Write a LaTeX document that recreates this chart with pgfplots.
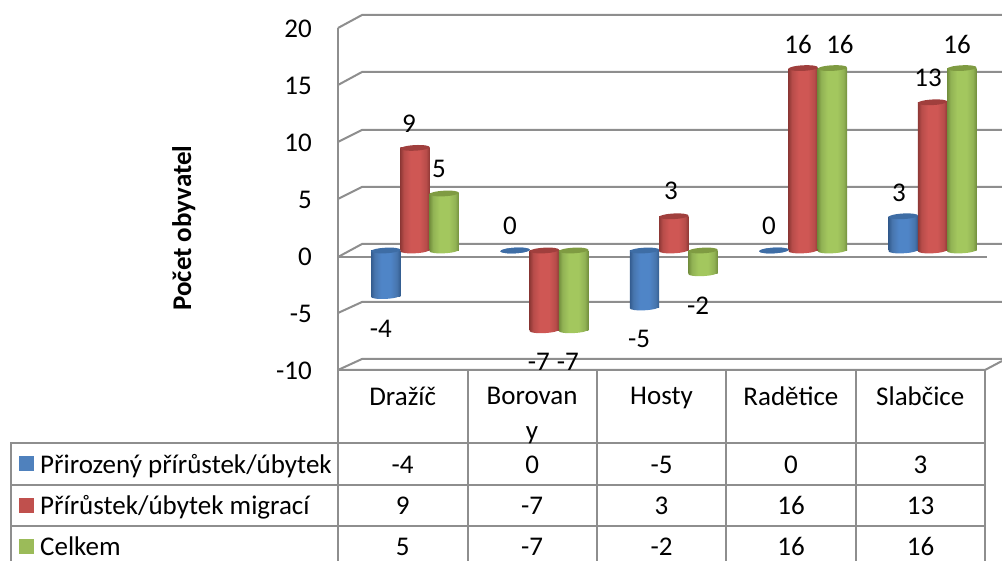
\documentclass[border=0pt]{standalone}
\usepackage{fontspec}
\setmainfont{Carlito}
\usepackage{pgfplots}
\pgfplotsset{compat=1.18}
\definecolor{gridc}{HTML}{8E8E8E}
\definecolor{sb}{HTML}{4F81BD}
\definecolor{sr}{HTML}{C0504D}
\definecolor{sg}{HTML}{9BBB59}
\definecolor{cb}{HTML}{3E6DA5}
\definecolor{cr}{HTML}{A03F3D}
\definecolor{cg}{HTML}{7F9B42}
\pgfdeclarehorizontalshading{cylb}{100bp}{rgb(0bp)=(0.20,0.36,0.56);rgb(25bp)=(0.20,0.36,0.56);rgb(31bp)=(0.28,0.46,0.68);rgb(42bp)=(0.31,0.52,0.78);rgb(58bp)=(0.31,0.52,0.78);rgb(69bp)=(0.28,0.46,0.68);rgb(75bp)=(0.20,0.36,0.56);rgb(100bp)=(0.20,0.36,0.56)}
\pgfdeclarehorizontalshading{cylr}{100bp}{rgb(0bp)=(0.56,0.22,0.21);rgb(25bp)=(0.56,0.22,0.21);rgb(31bp)=(0.72,0.30,0.29);rgb(42bp)=(0.81,0.34,0.33);rgb(58bp)=(0.81,0.34,0.33);rgb(69bp)=(0.72,0.30,0.29);rgb(75bp)=(0.56,0.22,0.21);rgb(100bp)=(0.56,0.22,0.21)}
\pgfdeclarehorizontalshading{cylg}{100bp}{rgb(0bp)=(0.45,0.56,0.24);rgb(25bp)=(0.45,0.56,0.24);rgb(31bp)=(0.57,0.70,0.33);rgb(42bp)=(0.64,0.78,0.37);rgb(58bp)=(0.64,0.78,0.37);rgb(69bp)=(0.57,0.70,0.33);rgb(75bp)=(0.45,0.56,0.24);rgb(100bp)=(0.45,0.56,0.24)}
\newcommand{\ellpath}{\pgftransformrotate{3}\pgfpathellipse{\pgfpointorigin}{\pgfqpoint{14.7pt}{0pt}}{\pgfqpoint{0pt}{2.8pt}}}
\pgfdeclareplotmark{captop}{\ellpath\pgfusepathqfill}
\pgfdeclareplotmark{botb}{\ellpath\pgfshadepath{cylb}{0}\pgfusepath{discard}}
\pgfdeclareplotmark{botr}{\ellpath\pgfshadepath{cylr}{0}\pgfusepath{discard}}
\pgfdeclareplotmark{botg}{\ellpath\pgfshadepath{cylg}{0}\pgfusepath{discard}}
\pgfplotsset{
  barb/.style={xshift=-17pt,yshift=5.5pt},
  barr/.style={xshift=12.3pt,yshift=5.5pt},
  barg/.style={xshift=41.5pt,yshift=5.5pt},
  colbar/.style={ybar,bar width=29.4pt,bar shift=0pt,draw=none,shade,shading=#1,forget plot},
  capm/.style={only marks,mark=captop,mark options={draw=none,fill=#1},forget plot},
  botm/.style={only marks,mark=#1,forget plot},
}
\newcommand{\mainfs}{\fontsize{27}{35}\selectfont}
\begin{document}
\begin{tikzpicture}[x=1pt,y=1pt]
\mainfs
\path[use as bounding box] (0,0) rectangle (1002,561);
\begin{scope}[shift={(0,561)},y=-1pt,gl/.style={draw=gridc,line width=2pt},every node/.style={inner sep=0pt}]
  % back wall gridlines and side wall
  \foreach \f/\b in {28/15,85/72,142/130,199/187,257/244,313/302,370/359}{
    \draw[gl] (338,\f) -- (362,\b) -- (1002,\b);
  }
  \draw[gl] (338,28) -- (338,561);
  \draw[gl] (338,257) -- (987,257);
  \draw[gl] (338,370) -- (985,370) -- (1002,361);
  % data table grid
  \foreach \x in {467.5,597,726,855.7,985}{\draw[gl] (\x,370) -- (\x,561);}
  \draw[gl] (10.5,561) -- (10.5,443) -- (985,443);
  \draw[gl] (10.5,485) -- (985,485);
  \draw[gl] (10.5,526.5) -- (985,526.5);
  % legend keys
  \fill[sb] (19,456) rectangle (34,471);
  \fill[sr] (19,498) rectangle (34,513);
  \fill[sg] (19,539) rectangle (34,554);
  \node[anchor=base west] at (40,473.5) {Přirozený přírůstek/úbytek};
  \node[anchor=base west] at (40,515) {Přírůstek/úbytek migrací};
  \node[anchor=base west] at (40,556) {Celkem};
  % data table values
  \foreach \x/\a/\b/\c in {402.7/-4/9/5,532.2/0/-7/-7,661.5/-5/3/-2,791/0/16/16,920.5/3/13/16}{
    \node[anchor=base] at (\x,474) {\a};
    \node[anchor=base] at (\x,515) {\b};
    \node[anchor=base] at (\x,556) {\c};
  }
\end{scope}
\begin{axis}[
  at={(338pt,191pt)},anchor=south west,
  scale only axis,width=647pt,height=342pt,
  xmin=-0.5,xmax=4.5,ymin=-10,ymax=20,
  clip=false,
  axis line style={draw=none},
  tick style={draw=none},
  ytick={-10,-5,0,5,10,15,20},
  xtick={0,1,2,3,4},
  xticklabels={Dražíč,{Borovan\\y},Hosty,Radětice,Slabčice},
  tick label style={font=\mainfs},
  xticklabel style={align=center,text width=125pt,anchor=north,yshift=-8pt},
  yticklabel style={/pgf/number format/assume math mode=true,anchor=east,xshift=-17pt,yshift=-1pt},
  ylabel={Počet obyvatel},
  ylabel style={font=\fontsize{27}{30}\selectfont\bfseries,at={(axis description cs:-0.2382,0.415)},anchor=center,rotate=0},
]
% Přirozený přírůstek/úbytek
\addplot[botm=botb,barb] coordinates {(0,-4)(1,0)(2,-5)(3,0)(4,0)};
\addplot[colbar=cylb,barb] coordinates {(0,-4)};
\addplot[colbar=cylb,barb] coordinates {(1,0)};
\addplot[colbar=cylb,barb] coordinates {(2,-5)};
\addplot[colbar=cylb,barb] coordinates {(3,0)};
\addplot[colbar=cylb,barb] coordinates {(4,3)};
\addplot[capm=cb,barb] coordinates {(0,0)(1,0)(2,0)(3,0)(4,3)};
% Přírůstek/úbytek migrací
\addplot[botm=botr,barr] coordinates {(0,0)(1,-7)(2,0)(3,0)(4,0)};
\addplot[colbar=cylr,barr] coordinates {(0,9)};
\addplot[colbar=cylr,barr] coordinates {(1,-7)};
\addplot[colbar=cylr,barr] coordinates {(2,3)};
\addplot[colbar=cylr,barr] coordinates {(3,16)};
\addplot[colbar=cylr,barr] coordinates {(4,13)};
\addplot[capm=cr,barr] coordinates {(0,9)(1,0)(2,3)(3,16)(4,13)};
% Celkem
\addplot[botm=botg,barg] coordinates {(0,0)(1,-7)(2,-2)(3,0)(4,0)};
\addplot[colbar=cylg,barg] coordinates {(0,5)};
\addplot[colbar=cylg,barg] coordinates {(1,-7)};
\addplot[colbar=cylg,barg] coordinates {(2,-2)};
\addplot[colbar=cylg,barg] coordinates {(3,16)};
\addplot[colbar=cylg,barg] coordinates {(4,16)};
\addplot[capm=cg,barg] coordinates {(0,5)(1,0)(2,0)(3,16)(4,16)};
% value labels
\addplot[draw=none,mark=none,forget plot,point meta=explicit symbolic,
  nodes near coords,nodes near coords style={anchor=center,inner sep=0pt,yshift=-2pt,font=\mainfs}]
  coordinates {(-0.168,-6.23)[-4] (0.049,11.75)[9] (0.281,7.81)[5]
   (0.829,2.81)[0] (1.053,-9.12)[-7] (1.277,-9.12)[-7]
   (1.826,-7.11)[-5] (2.073,5.88)[3] (2.282,-4.21)[-2]
   (2.831,2.81)[0] (3.055,18.77)[16] (3.379,18.77)[16]
   (3.835,5.70)[3] (4.060,15.79)[13] (4.284,18.77)[16]};
\end{axis}
\end{tikzpicture}
\end{document}
